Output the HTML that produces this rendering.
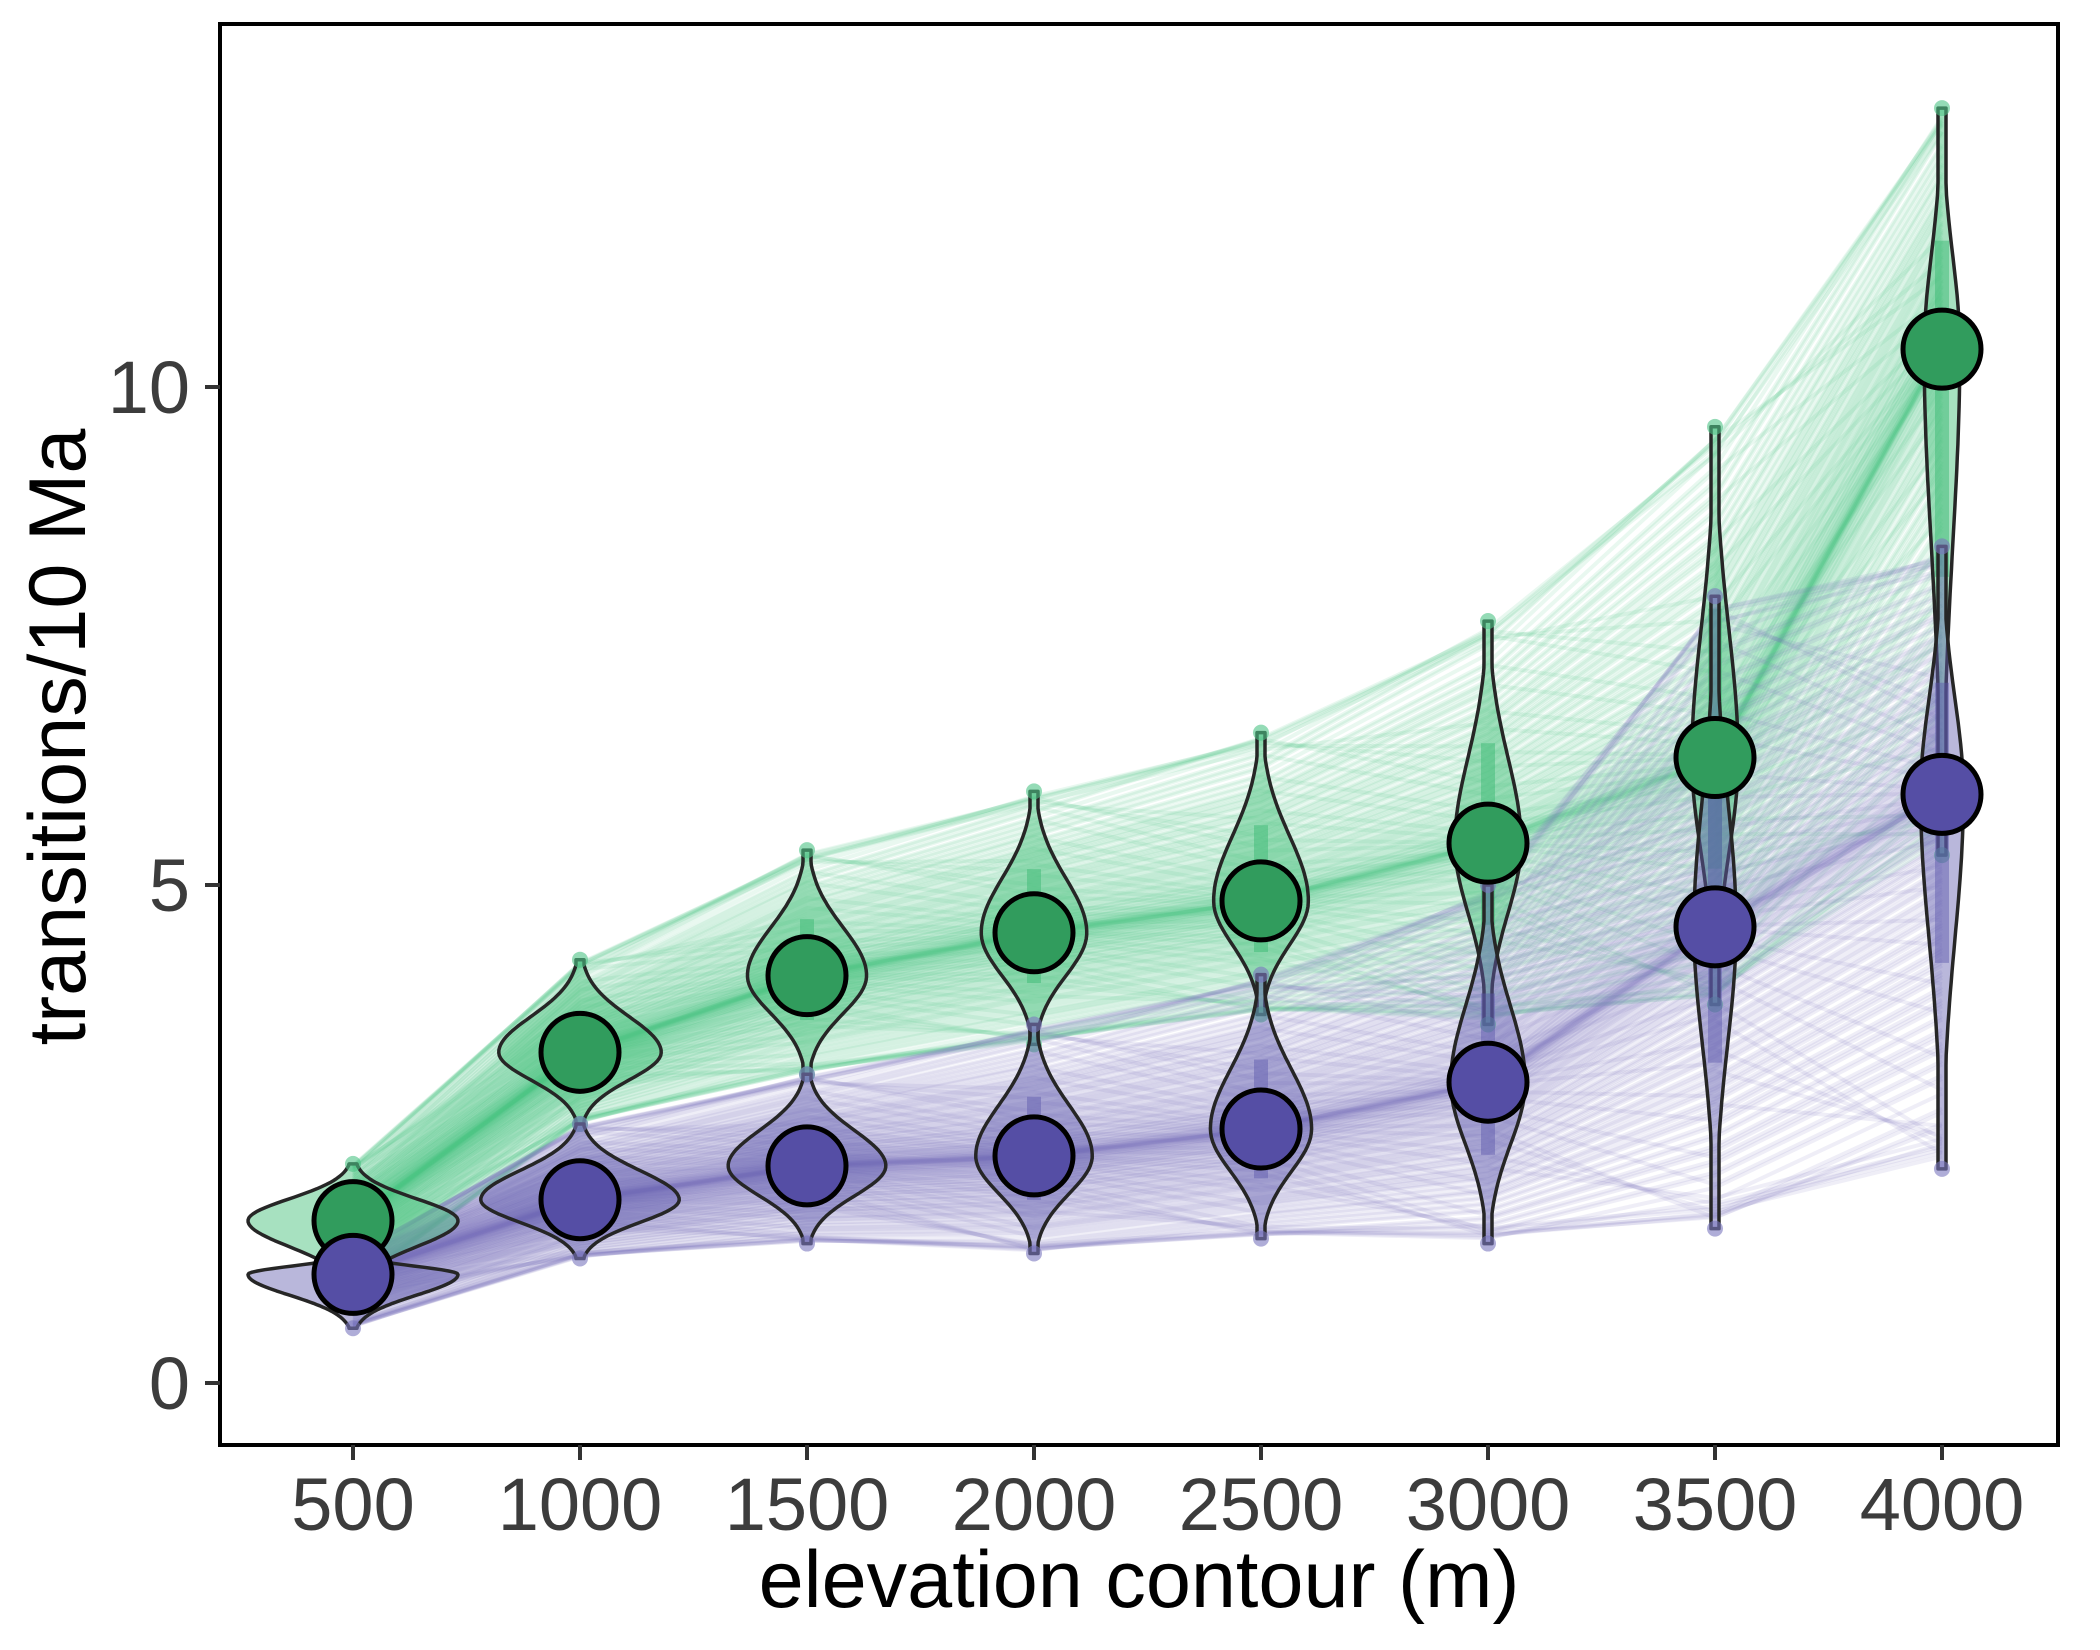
<!DOCTYPE html>
<html><head><meta charset="utf-8"><style>
html,body{margin:0;padding:0;background:#fff;}
svg{display:block;}
text{font-family:"Liberation Sans",sans-serif;}
</style></head><body>
<svg id="chart" width="2100" height="1650" viewBox="0 0 2100 1650" xmlns="http://www.w3.org/2000/svg">
<rect x="0" y="0" width="2100" height="1650" fill="#fff"/>
<g id="lines"></g>
<g id="violins"></g>
<g id="medians"></g>
<rect x="220" y="24" width="1838" height="1421" fill="none" stroke="#000" stroke-width="4"/>
<g id="axes"></g>
<text x="1139" y="1607" font-size="81" text-anchor="middle" fill="#000">elevation contour (m)</text>
<text transform="translate(85,737) rotate(-90)" font-size="81" text-anchor="middle" fill="#000">transitions/10 Ma</text>
</svg>
<script>
const categories = [500,1000,1500,2000,2500,3000,3500,4000];
const greenMedian = [1.63,3.32,4.09,4.52,4.84,5.42,6.28,10.38];
const greenMin    = [0.95,2.6,3.1,3.4,3.7,3.6,3.8,5.3];
const greenMax    = [2.2,4.25,5.35,5.94,6.53,7.65,9.6,12.8];
const purpleMedian = [1.09,1.84,2.18,2.28,2.55,3.02,4.58,5.91];
const purpleMin    = [0.55,1.25,1.4,1.3,1.45,1.4,1.55,2.15];
const purpleMax    = [1.3,2.6,3.1,3.6,4.1,5.0,7.9,8.4];
const yTicks = [0,5,10];

const NS="http://www.w3.org/2000/svg";
function xScale(c){ return 353 + (c-500)/500*227; }
function yScale(v){ return 1383 - v*99.6; }
function mk(tag, attrs, parent){ const e=document.createElementNS(NS,tag); for(const k in attrs) e.setAttribute(k,attrs[k]); parent.appendChild(e); return e; }

const groups = [
 {key:'high', med:greenMedian, mn:greenMin, mx:greenMax, line:'#4cc385', vfill:'rgba(80,195,130,0.5)', bar:'rgba(60,185,115,0.5)', pt:'#319c5d'},
 {key:'low', med:purpleMedian, mn:purpleMin, mx:purpleMax, line:'#7a77be', vfill:'rgba(100,96,176,0.45)', bar:'rgba(90,86,170,0.45)', pt:'#554ea5'}
];

const linesG=document.getElementById('lines');
groups.forEach(g=>{
  const N=220;
  for(let i=0;i<N;i++){
    let pts=[];
    const q=0.02+0.96*(i+0.5)/N;
    categories.forEach((c,j)=>{
      const wob = ((i*37+j*53)%17)/17 - 0.5;
      let r = q + wob*0.3;
      if(r<0.01) r=0.01+ (0.01-r)*0.2;
      if(r>0.99) r=0.99- (r-0.99)*0.2;
      const z = (r-0.5)*2;
      const s = Math.sign(z)*Math.pow(Math.abs(z),1.6);
      const v = s>=0 ? g.med[j] + s*(g.mx[j]-g.med[j]) : g.med[j] + s*(g.med[j]-g.mn[j]);
      pts.push(xScale(c).toFixed(1)+','+yScale(v).toFixed(1));
    });
    const p=mk('polyline',{points:pts.join(' '),fill:'none',stroke:g.line,'stroke-width':4,'stroke-opacity':0.12},linesG);
    
    
  }
});

const violG=document.getElementById('violins');
groups.forEach(g=>{
  categories.forEach((c,j)=>{
    const cx=xScale(c), mn=g.mn[j], mx=g.mx[j], md=g.med[j];
    const range=mx-mn;
    const W=Math.min(105,134/range);
    const n=60, left=[], right=[];
    for(let k=0;k<=n;k++){
      const v=mn+range*k/n;
      const sd=(v<md?(md-mn):(mx-md))/2.6;
      let w=W*Math.exp(-0.5*Math.pow((v-md)/sd,2));
      w=Math.max(w,4);
      if(k===0||k===n) w=4;
      left.push((cx-w).toFixed(1)+','+yScale(v).toFixed(1));
      right.unshift((cx+w).toFixed(1)+','+yScale(v).toFixed(1));
    }
    const d='M'+left.join(' L')+' L'+right.join(' L')+' Z';
    const vp=mk('path',{d:d,fill:g.vfill,stroke:'#262626','stroke-width':3.5,'stroke-linejoin':'round'},violG);
    
    
    const q1=md-(md-mn)*0.45, q3=md+(mx-md)*0.45;
    const br=mk('rect',{x:cx-7,y:yScale(q3),width:14,height:yScale(q1)-yScale(q3),fill:g.bar},violG);
    
    
    [mn,mx].forEach(v=>{
      const e=mk('circle',{cx:cx,cy:yScale(v),r:8,fill:g.line,'fill-opacity':0.6},violG);
      
      
    });
  });
});

const medG=document.getElementById('medians');
groups.forEach(g=>{
  categories.forEach((c,j)=>{
    const e=mk('circle',{cx:xScale(c),cy:yScale(g.med[j]),r:39,fill:g.pt,stroke:'#000','stroke-width':5},medG);
    
    
  });
});

const axG=document.getElementById('axes');
categories.forEach(c=>{
  const t=mk('line',{x1:xScale(c),x2:xScale(c),y1:1445,y2:1460,stroke:'#333','stroke-width':4},axG);
  
  
  const l=mk('text',{x:xScale(c),y:1530,'font-size':74,'text-anchor':'middle',fill:'#3c3c3c'},axG);
  l.textContent=c;
  
  
});
yTicks.forEach(v=>{
  const t=mk('line',{x1:205,x2:220,y1:yScale(v),y2:yScale(v),stroke:'#333','stroke-width':4},axG);
  
  
  const l=mk('text',{x:190,y:yScale(v)+26,'font-size':74,'text-anchor':'end',fill:'#3c3c3c'},axG);
  l.textContent=v;
  
  
});
</script>
</body></html>
